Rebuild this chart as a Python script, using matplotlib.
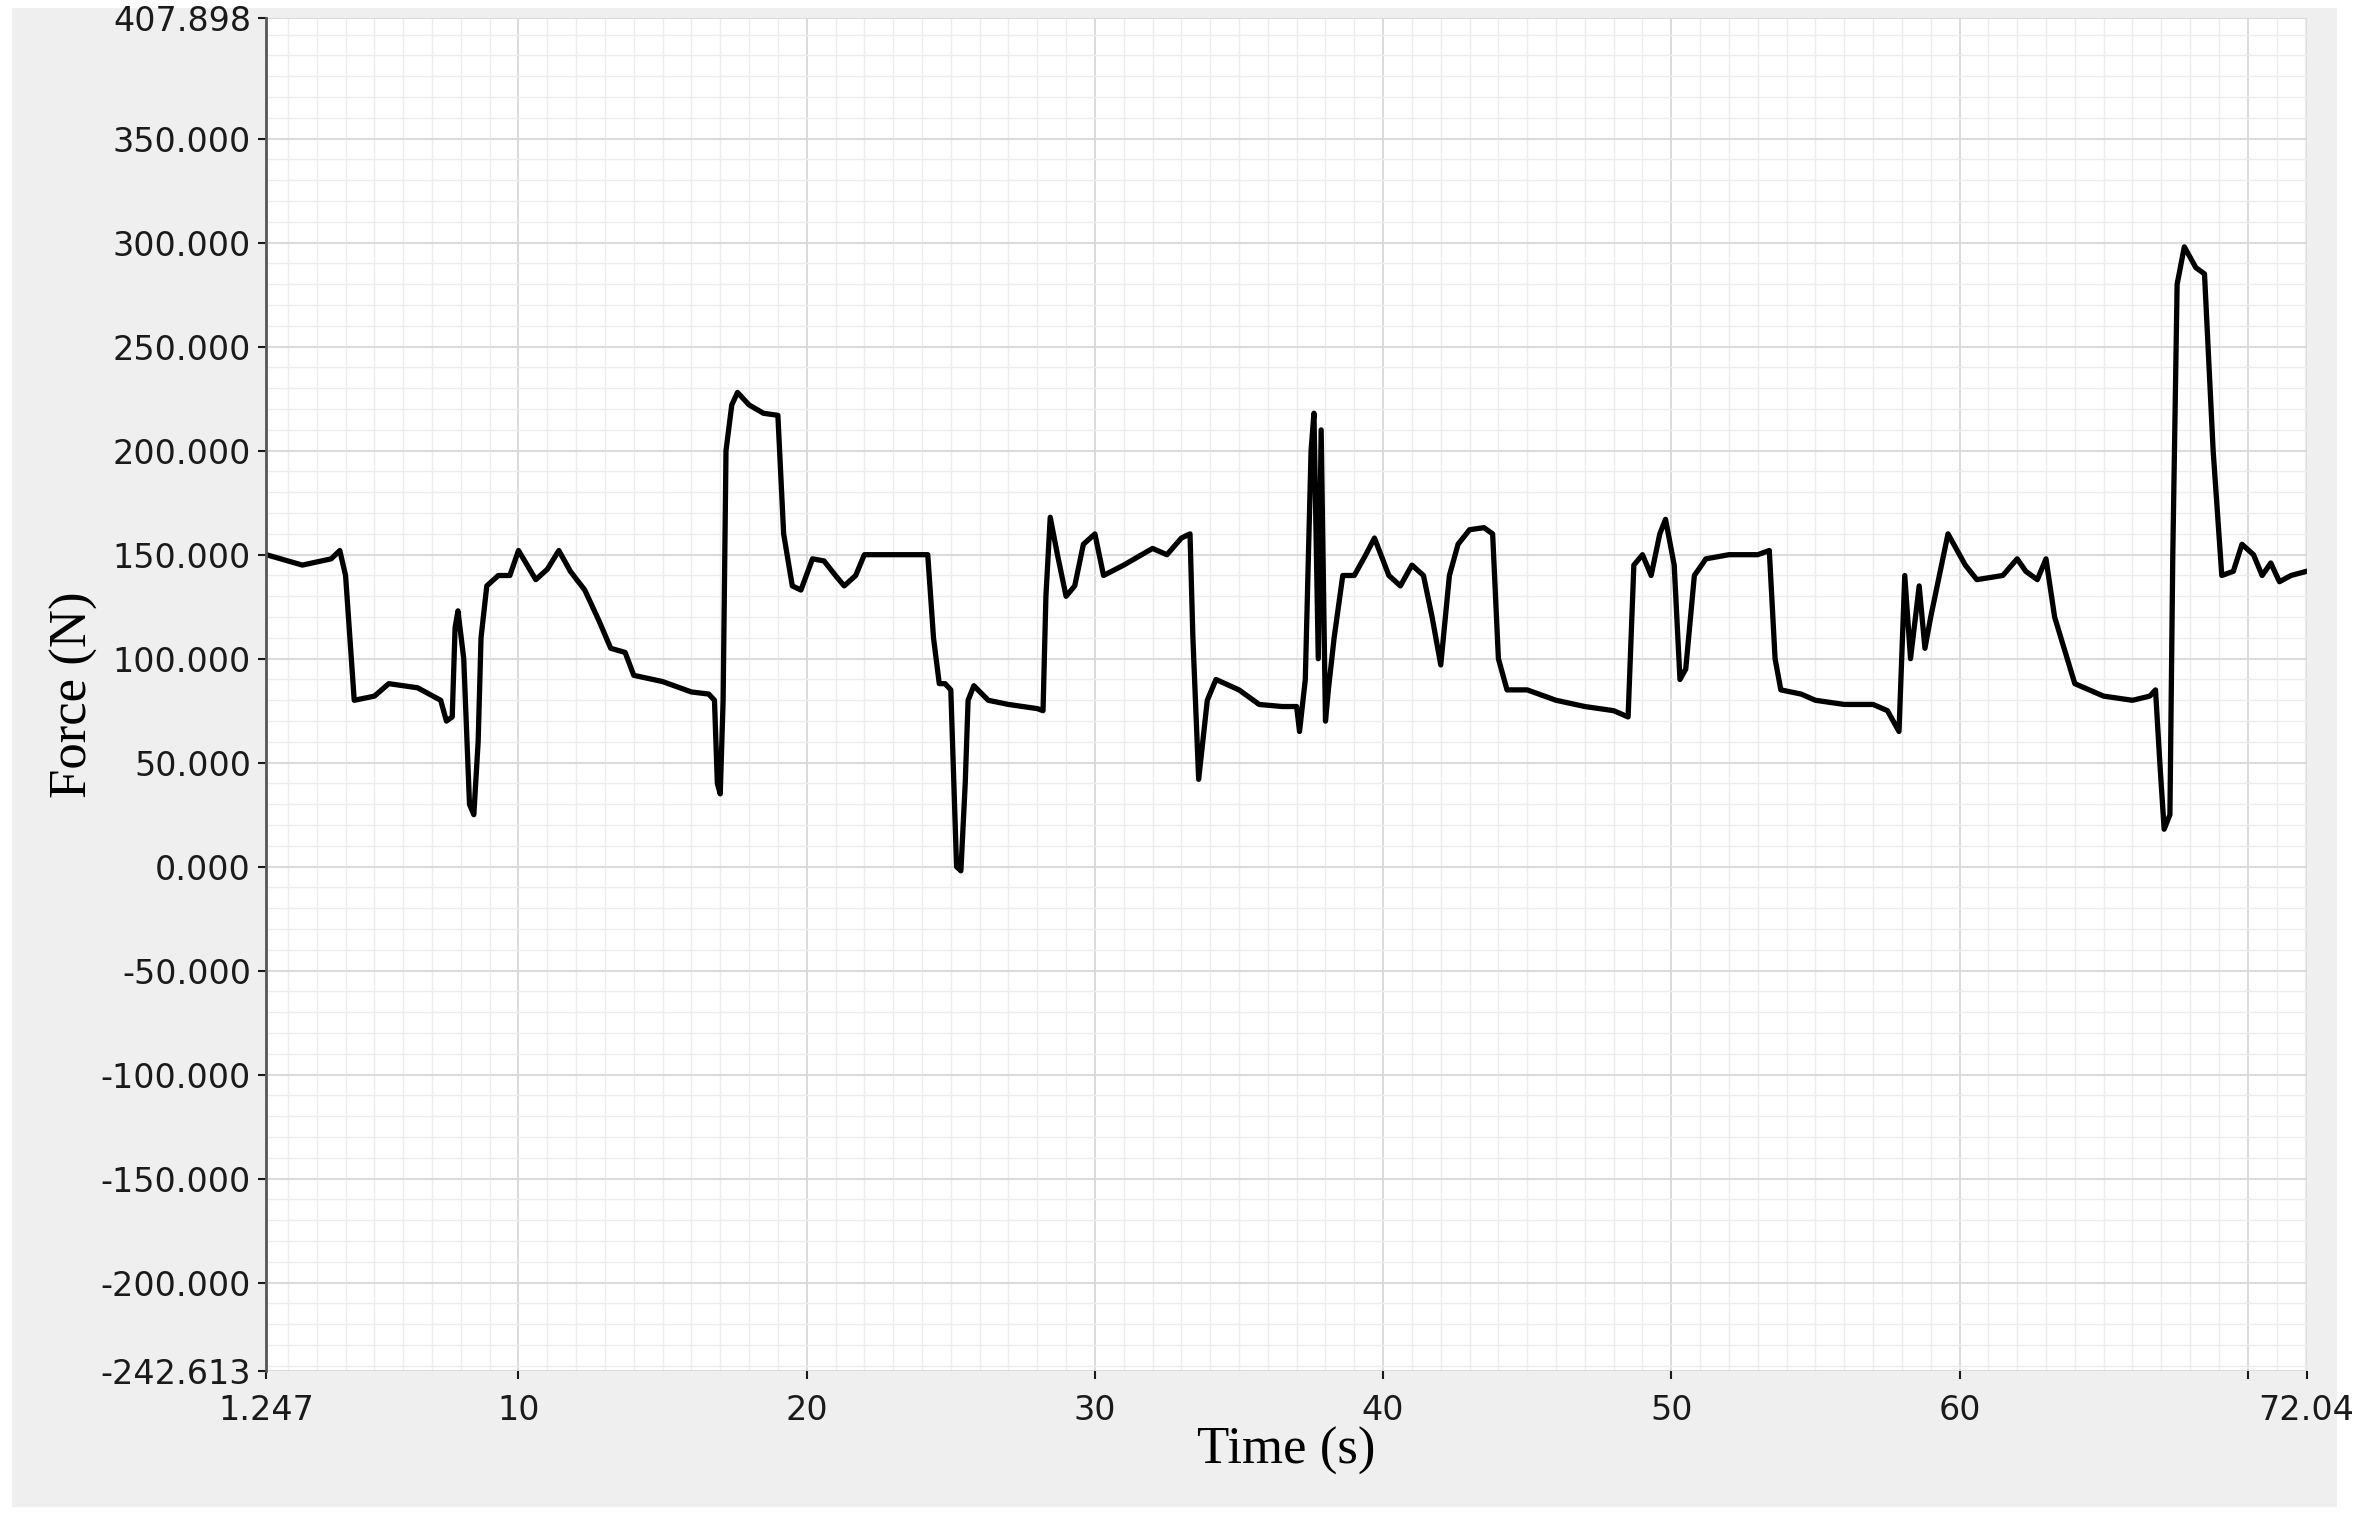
import numpy as np
import matplotlib.pyplot as plt
import matplotlib.ticker as ticker
from matplotlib.patches import Rectangle

# ── Data ────────────────────────────────────────────────────────────────────
T_MIN, T_MAX = 1.247, 72.04
F_MIN, F_MAX = -242.613, 407.898

time_s = [1.25, 2.5, 3.5, 3.8, 4.0, 4.3, 5.0, 5.5, 6.5, 7.3, 7.5, 7.7, 7.8, 7.9, 8.1, 8.3,
          8.45, 8.6, 8.7, 8.9, 9.3, 9.7, 10.0, 10.3, 10.6, 11.0, 11.4, 11.8, 12.3, 12.8,
          13.2, 13.7, 14.0, 15.0, 16.0, 16.6, 16.8, 16.9, 17.0, 17.1, 17.2, 17.4, 17.6,
          18.0, 18.5, 19.0, 19.2, 19.5, 19.8, 20.2, 20.6, 21.0, 21.3, 21.7, 22.0, 22.5,
          23.5, 24.2, 24.4, 24.6, 24.8, 25.0, 25.2, 25.35, 25.5, 25.6, 25.8, 26.3, 27.0,
          28.0, 28.2, 28.3, 28.45, 28.7, 29.0, 29.3, 29.6, 30.0, 30.3, 31.0, 32.0, 32.5,
          33.0, 33.3, 33.4, 33.6, 33.9, 34.2, 35.0, 35.7, 36.5, 37.0, 37.1, 37.3, 37.5,
          37.6, 37.75, 37.85, 38.0, 38.1, 38.3, 38.6, 39.0, 39.4, 39.7, 40.2, 40.6, 41.0,
          41.4, 41.7, 42.0, 42.3, 42.6, 43.0, 43.5, 43.8, 44.0, 44.3, 45.0, 46.0, 47.0,
          48.0, 48.5, 48.7, 49.0, 49.3, 49.6, 49.8, 50.1, 50.3, 50.5, 50.8, 51.2, 52.0,
          53.0, 53.4, 53.6, 53.8, 54.5, 55.0, 56.0, 57.0, 57.5, 57.9, 58.1, 58.3, 58.6,
          58.8, 59.0, 59.3, 59.6, 60.2, 60.6, 61.5, 62.0, 62.3, 62.5, 62.7, 63.0, 63.3,
          64.0, 65.0, 66.0, 66.6, 66.8, 66.95, 67.1, 67.3, 67.4, 67.55, 67.8, 68.2, 68.5,
          68.8, 69.1, 69.5, 69.8, 70.2, 70.5, 70.8, 71.1, 71.5, 72.04]
force_n = [150, 145, 148, 152, 140, 80, 82, 88, 86, 80, 70, 72, 115, 123, 100, 30,
           25, 60, 110, 135, 140, 140, 152, 145, 138, 143, 152, 142, 133, 118,
           105, 103, 92, 89, 84, 83, 80, 40, 35, 80, 200, 222, 228,
           222, 218, 217, 160, 135, 133, 148, 147, 140, 135, 140, 150, 150,
           150, 150, 110, 88, 88, 85, 0, -2, 40, 80, 87, 80, 78,
           76, 75, 130, 168, 150, 130, 135, 155, 160, 140, 145, 153, 150,
           158, 160, 110, 42, 80, 90, 85, 78, 77, 77, 65, 90, 200,
           218, 100, 210, 70, 85, 110, 140, 140, 150, 158, 140, 135, 145,
           140, 120, 97, 140, 155, 162, 163, 160, 100, 85, 85, 80, 77,
           75, 72, 145, 150, 140, 160, 167, 145, 90, 95, 140, 148, 150,
           150, 152, 100, 85, 83, 80, 78, 78, 75, 65, 140, 100, 135,
           105, 120, 140, 160, 145, 138, 140, 148, 142, 140, 138, 148, 120,
           88, 82, 80, 82, 85, 50, 18, 25, 150, 280, 298, 288, 285,
           200, 140, 142, 155, 150, 140, 146, 137, 140, 142]

x_ticks = [T_MIN, 10, 20, 30, 40, 50, 60, 70, T_MAX]
x_labels = ["1.247", "10", "20", "30", "40", "50", "60", "", "72.04"]
y_ticks = [F_MIN, -200, -150, -100, -50, 0, 50, 100, 150, 200, 250, 300, 350, F_MAX]

# ── Figure ──────────────────────────────────────────────────────────────────
fig = plt.figure(figsize=(23.56, 15.22), dpi=100, facecolor="white")
fig.patches.append(Rectangle((0.005, 0.01), 0.987, 0.985, transform=fig.transFigure,
                             facecolor="#efefef", edgecolor="none", zorder=-1))
ax = fig.add_axes([0.113, 0.099, 0.866, 0.889])
ax.set_facecolor("white")

ax.plot(time_s, force_n, color="black", lw=3.8)

ax.set_xlim(T_MIN, T_MAX)
ax.set_ylim(F_MIN, F_MAX)
ax.set_xticks(x_ticks)
ax.set_xticklabels(x_labels)
ax.set_yticks(y_ticks)
ax.set_yticklabels([f"{v:.3f}" for v in y_ticks])
ax.xaxis.set_minor_locator(ticker.MultipleLocator(1))
ax.yaxis.set_minor_locator(ticker.MultipleLocator(10))

ax.grid(which="major", color="#d8d8d8", lw=1.3)
ax.grid(which="minor", color="#ececec", lw=1.0)
ax.set_axisbelow(True)
ax.tick_params(which="major", length=6, width=1.5, labelsize=24, colors="#1a1a1a",
               pad=5)
ax.tick_params(axis="x", pad=10)
ax.tick_params(which="minor", length=0)
for side in ["top", "right"]:
    ax.spines[side].set_visible(False)
ax.spines["bottom"].set_visible(False)
ax.spines["left"].set_color("#555555")
ax.spines["left"].set_linewidth(2)

ax.set_xlabel("Time (s)", fontsize=38, family="Liberation Serif", labelpad=0)
ax.set_ylabel("Force (N)", fontsize=38, family="Liberation Serif", labelpad=2)

fig.savefig("out.png", dpi=100, facecolor="white")
